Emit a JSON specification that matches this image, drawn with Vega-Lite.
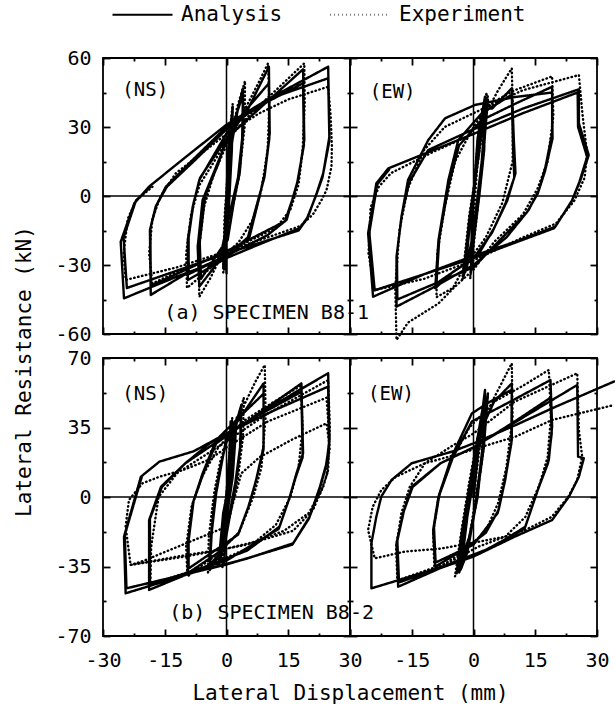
{
"$schema":"https://vega.github.io/schema/vega-lite/v6.json",
"padding":{"left":12,"top":3,"right":0,"bottom":0},
"config":{"font":"DejaVu Sans Mono","view":{"stroke":"black","strokeWidth":1.8},
"axis":{"tickColor":"black","tickWidth":1.8,"tickSize":7,"offset":-7,"labelColor":"black","titleColor":"black","labelFont":"DejaVu Sans Mono","titleFont":"DejaVu Sans Mono","labelFontSize":20,"titleFontSize":21,"titleFontWeight":"normal","domain":false,"grid":false,"labelFlush":false,"labelOverlap":false}},
"datasets":{
"aNS":[
{"s":"A","x":0,"y":0},{"s":"A","x":0.3,"y":15},{"s":"A","x":0.6,"y":26},{"s":"A","x":0.4,"y":5},{"s":"A","x":-0.2,"y":-15},{"s":"A","x":-0.5,"y":-27},{"s":"A","x":-0.1,"y":-5},{"s":"A","x":0.5,"y":20},{"s":"A","x":1.2,"y":34},{"s":"A","x":0.9,"y":10},{"s":"A","x":0.2,"y":-15},{"s":"A","x":-0.8,"y":-31},{"s":"A","x":-0.2,"y":-5},
{"s":"A","x":0,"y":0},{"s":"A","x":0.6,"y":18},{"s":"A","x":1,"y":30},{"s":"A","x":0.8,"y":12},{"s":"A","x":0.2,"y":-10},{"s":"A","x":-0.4,"y":-26},{"s":"A","x":-0.6,"y":-32},{"s":"A","x":-0.3,"y":-12},{"s":"A","x":0.3,"y":12},{"s":"A","x":1,"y":28},{"s":"A","x":1.5,"y":38.8},{"s":"A","x":1.3,"y":20},{"s":"A","x":0.6,"y":-4},{"s":"A","x":0,"y":-20},{"s":"A","x":0,"y":-33.6},{"s":"A","x":-0.2,"y":-16},{"s":"A","x":0.2,"y":8},{"s":"A","x":1.5,"y":25},{"s":"A","x":2.8,"y":38},{"s":"A","x":4,"y":46.8},{"s":"A","x":4.1,"y":28.7},{"s":"A","x":3.2,"y":9.9},{"s":"A","x":2,"y":-0.3},{"s":"A","x":0.3,"y":-19},{"s":"A","x":-3,"y":-31},{"s":"A","x":-6.6,"y":-39.4},{"s":"A","x":-7,"y":-22},{"s":"A","x":-5.8,"y":-1.7},{"s":"A","x":-2.5,"y":12.8},{"s":"A","x":0,"y":24},{"s":"A","x":2.5,"y":36},{"s":"A","x":4,"y":44},{"s":"A","x":3.8,"y":25},{"s":"A","x":2.8,"y":8},{"s":"A","x":1.5,"y":-2},{"s":"A","x":-1,"y":-22},{"s":"A","x":-6.2,"y":-36},{"s":"A","x":-6.5,"y":-20},{"s":"A","x":-5.2,"y":0},{"s":"A","x":-2,"y":14},{"s":"A","x":0,"y":25},{"s":"A","x":5,"y":37},{"s":"A","x":10.3,"y":56.2},{"s":"A","x":10.5,"y":27.2},{"s":"A","x":9.3,"y":9.9},{"s":"A","x":8,"y":-0.3},{"s":"A","x":5.6,"y":-17.7},{"s":"A","x":0,"y":-27},{"s":"A","x":-9.4,"y":-36.5},{"s":"A","x":-9.4,"y":-19.1},{"s":"A","x":-8.2,"y":-4.6},{"s":"A","x":-6.6,"y":7},{"s":"A","x":0,"y":27.2},{"s":"A","x":5,"y":38},{"s":"A","x":10.3,"y":49},{"s":"A","x":10.4,"y":25},{"s":"A","x":9.2,"y":8},{"s":"A","x":7.8,"y":-1},{"s":"A","x":5.2,"y":-18},{"s":"A","x":0,"y":-26},{"s":"A","x":-9.2,"y":-34},{"s":"A","x":-9.2,"y":-18},{"s":"A","x":-8,"y":-3},{"s":"A","x":-6.4,"y":8},{"s":"A","x":0,"y":25},{"s":"A","x":8,"y":38},{"s":"A","x":18.6,"y":55.1},{"s":"A","x":18.9,"y":24.3},{"s":"A","x":17.4,"y":7},{"s":"A","x":16.2,"y":-0.3},{"s":"A","x":14.6,"y":-10.4},{"s":"A","x":10,"y":-17},{"s":"A","x":0,"y":-26},{"s":"A","x":-10,"y":-34},{"s":"A","x":-18.4,"y":-43},{"s":"A","x":-18.6,"y":-14.8},{"s":"A","x":-17.2,"y":-4.6},{"s":"A","x":-14.7,"y":4.1},{"s":"A","x":-8.2,"y":15.7},{"s":"A","x":0,"y":30.1},{"s":"A","x":10,"y":41},{"s":"A","x":18.6,"y":49},{"s":"A","x":18.8,"y":22},{"s":"A","x":17.2,"y":6},{"s":"A","x":16,"y":-1.5},{"s":"A","x":14.2,"y":-11},{"s":"A","x":0,"y":-24},{"s":"A","x":-18.4,"y":-39},{"s":"A","x":-18.5,"y":-14},{"s":"A","x":-17,"y":-4},{"s":"A","x":-14.5,"y":4},{"s":"A","x":-8,"y":15},{"s":"A","x":0,"y":29},{"s":"A","x":10,"y":42},{"s":"A","x":24.7,"y":56.2},{"s":"A","x":25,"y":25.8},{"s":"A","x":23.5,"y":9.9},{"s":"A","x":21.9,"y":1.2},{"s":"A","x":19.8,"y":-9},{"s":"A","x":17.8,"y":-14},{"s":"A","x":8,"y":-21},{"s":"A","x":0,"y":-27},{"s":"A","x":-12,"y":-35},{"s":"A","x":-24.9,"y":-44.5},{"s":"A","x":-25.7,"y":-19.9},{"s":"A","x":-22.4,"y":-3.2},{"s":"A","x":-18.8,"y":4.1},{"s":"A","x":-9.8,"y":17.1},{"s":"A","x":0,"y":31},{"s":"A","x":10,"y":42},{"s":"A","x":24.7,"y":51.2},{"s":"A","x":25,"y":24},{"s":"A","x":23.3,"y":8},{"s":"A","x":21.7,"y":0},{"s":"A","x":19.5,"y":-10},{"s":"A","x":17.5,"y":-15},{"s":"A","x":0,"y":-25},{"s":"A","x":-24.2,"y":-40},{"s":"A","x":-25,"y":-18},{"s":"A","x":-22,"y":-2},{"s":"A","x":-18.5,"y":4},
{"s":"E","x":0,"y":0},{"s":"E","x":0.4,"y":18},{"s":"E","x":0.8,"y":30},{"s":"E","x":0.3,"y":5},{"s":"E","x":-0.4,"y":-20},{"s":"E","x":-0.6,"y":-29},{"s":"E","x":0,"y":-5},
{"s":"E","x":0,"y":0},{"s":"E","x":0.8,"y":28},{"s":"E","x":1.5,"y":40},{"s":"E","x":0.8,"y":10},{"s":"E","x":0,"y":-15},{"s":"E","x":-0.8,"y":-34},{"s":"E","x":-0.5,"y":-10},{"s":"E","x":0.5,"y":15},{"s":"E","x":2.5,"y":38},{"s":"E","x":4.5,"y":50},{"s":"E","x":4.4,"y":30},{"s":"E","x":3,"y":8},{"s":"E","x":1.5,"y":-5},{"s":"E","x":-1,"y":-25},{"s":"E","x":-4,"y":-36},{"s":"E","x":-6.6,"y":-43.8},{"s":"E","x":-6.8,"y":-25},{"s":"E","x":-5.5,"y":-5},{"s":"E","x":-3,"y":10},{"s":"E","x":0,"y":22},{"s":"E","x":4,"y":36},{"s":"E","x":8,"y":50},{"s":"E","x":10.1,"y":57.7},{"s":"E","x":10.4,"y":40},{"s":"E","x":10,"y":20},{"s":"E","x":8.5,"y":3},{"s":"E","x":6.5,"y":-10},{"s":"E","x":3,"y":-20},{"s":"E","x":-3,"y":-30},{"s":"E","x":-9.6,"y":-40},{"s":"E","x":-9.8,"y":-25},{"s":"E","x":-8.6,"y":-8},{"s":"E","x":-6.5,"y":5},{"s":"E","x":-3,"y":15},{"s":"E","x":0,"y":24},{"s":"E","x":6,"y":36},{"s":"E","x":12,"y":46},{"s":"E","x":18.9,"y":57.7},{"s":"E","x":19,"y":40},{"s":"E","x":18.5,"y":20},{"s":"E","x":17.5,"y":5},{"s":"E","x":15.5,"y":-6},{"s":"E","x":12,"y":-14},{"s":"E","x":5,"y":-20},{"s":"E","x":-5,"y":-28},{"s":"E","x":-12,"y":-33},{"s":"E","x":-18,"y":-38},{"s":"E","x":-18.8,"y":-25},{"s":"E","x":-18,"y":-10},{"s":"E","x":-16,"y":0},{"s":"E","x":-12.3,"y":9.9},{"s":"E","x":-5,"y":20},{"s":"E","x":0,"y":27},{"s":"E","x":8,"y":36},{"s":"E","x":15,"y":42},{"s":"E","x":24.7,"y":47.5},{"s":"E","x":25.3,"y":35},{"s":"E","x":25.6,"y":22},{"s":"E","x":25.5,"y":12.8},{"s":"E","x":24.3,"y":2.6},{"s":"E","x":23.1,"y":-1.7},{"s":"E","x":21,"y":-8},{"s":"E","x":18,"y":-13},{"s":"E","x":10,"y":-18},{"s":"E","x":0,"y":-24},{"s":"E","x":-12,"y":-31},{"s":"E","x":-24.5,"y":-36.5},{"s":"E","x":-25,"y":-25},{"s":"E","x":-24,"y":-10},{"s":"E","x":-22,"y":-2},{"s":"E","x":-18,"y":4}
],
"aEW":[
{"s":"A","x":0,"y":0},{"s":"A","x":1.5,"y":25},{"s":"A","x":3,"y":40},{"s":"A","x":2,"y":15},{"s":"A","x":0,"y":-15},{"s":"A","x":-1.5,"y":-30},{"s":"A","x":-2.5,"y":-35},{"s":"A","x":-1,"y":-10},{"s":"A","x":1,"y":15},{"s":"A","x":2.5,"y":35},{"s":"A","x":3.5,"y":42},{"s":"A","x":2,"y":10},{"s":"A","x":-0.5,"y":-20},{"s":"A","x":-2,"y":-33},{"s":"A","x":-0.5,"y":-5},
{"s":"A","x":0,"y":0},{"s":"A","x":1,"y":25},{"s":"A","x":2.8,"y":43.2},{"s":"A","x":2.6,"y":20},{"s":"A","x":1.4,"y":0},{"s":"A","x":0,"y":-20},{"s":"A","x":-0.6,"y":-33},{"s":"A","x":-0.4,"y":-12},{"s":"A","x":0.6,"y":15},{"s":"A","x":2.2,"y":38},{"s":"A","x":4.5,"y":38},{"s":"A","x":9.3,"y":46.8},{"s":"A","x":9.8,"y":24.3},{"s":"A","x":10.2,"y":9.9},{"s":"A","x":8.2,"y":-2},{"s":"A","x":5,"y":-14},{"s":"A","x":1,"y":-26},{"s":"A","x":-5,"y":-33},{"s":"A","x":-9.3,"y":-40.1},{"s":"A","x":-8.5,"y":-19.1},{"s":"A","x":-6.1,"y":7},{"s":"A","x":-3.7,"y":24.3},{"s":"A","x":2,"y":36},{"s":"A","x":9.3,"y":44},{"s":"A","x":9.6,"y":22},{"s":"A","x":9.9,"y":8},{"s":"A","x":7.8,"y":-3},{"s":"A","x":4.5,"y":-16},{"s":"A","x":0,"y":-27},{"s":"A","x":-9,"y":-38},{"s":"A","x":-8.3,"y":-18},{"s":"A","x":-6,"y":5},{"s":"A","x":-3.5,"y":22},{"s":"A","x":2,"y":33},{"s":"A","x":10,"y":40},{"s":"A","x":19.1,"y":47.5},{"s":"A","x":19.1,"y":27.2},{"s":"A","x":17.5,"y":12.8},{"s":"A","x":15.9,"y":2.6},{"s":"A","x":13.4,"y":-6.1},{"s":"A","x":8,"y":-18},{"s":"A","x":0,"y":-30},{"s":"A","x":-10,"y":-40},{"s":"A","x":-18.7,"y":-48.1},{"s":"A","x":-18.7,"y":-26.4},{"s":"A","x":-17.5,"y":-9},{"s":"A","x":-15.9,"y":7},{"s":"A","x":-11,"y":24.3},{"s":"A","x":-6.9,"y":33.8},{"s":"A","x":0.4,"y":39.6},{"s":"A","x":10,"y":43},{"s":"A","x":19.1,"y":45},{"s":"A","x":19.2,"y":25},{"s":"A","x":17.4,"y":11},{"s":"A","x":15.6,"y":1},{"s":"A","x":13,"y":-7},{"s":"A","x":0,"y":-31},{"s":"A","x":-18.5,"y":-45},{"s":"A","x":-18.6,"y":-25},{"s":"A","x":-17.4,"y":-8},{"s":"A","x":-15.6,"y":6},{"s":"A","x":-11,"y":20},{"s":"A","x":0,"y":29},{"s":"A","x":12,"y":38},{"s":"A","x":25.6,"y":46.4},{"s":"A","x":25.6,"y":31.6},{"s":"A","x":28,"y":17.8},{"s":"A","x":26,"y":7},{"s":"A","x":24,"y":-1.7},{"s":"A","x":19.9,"y":-13.3},{"s":"A","x":10,"y":-20},{"s":"A","x":0,"y":-26},{"s":"A","x":-12,"y":-34},{"s":"A","x":-24.4,"y":-43.8},{"s":"A","x":-25.6,"y":-16.2},{"s":"A","x":-23.6,"y":5.5},{"s":"A","x":-20.7,"y":12},{"s":"A","x":-11,"y":19},{"s":"A","x":0,"y":27},{"s":"A","x":12,"y":36},{"s":"A","x":25.3,"y":45},{"s":"A","x":25.4,"y":30},{"s":"A","x":27.6,"y":17},{"s":"A","x":25.7,"y":6},{"s":"A","x":23.8,"y":-2.5},{"s":"A","x":19.6,"y":-14},{"s":"A","x":0,"y":-27},{"s":"A","x":-24,"y":-41},{"s":"A","x":-25.3,"y":-16},{"s":"A","x":-23.4,"y":5},{"s":"A","x":-20.5,"y":11.5},
{"s":"E","x":0,"y":0},{"s":"E","x":1.8,"y":28},{"s":"E","x":3.5,"y":44},{"s":"E","x":2,"y":12},{"s":"E","x":-0.5,"y":-22},{"s":"E","x":-2.8,"y":-37},{"s":"E","x":-1,"y":-8},{"s":"E","x":1.5,"y":20},
{"s":"E","x":0,"y":0},{"s":"E","x":1.2,"y":28},{"s":"E","x":3.2,"y":45},{"s":"E","x":2.5,"y":20},{"s":"E","x":1,"y":-5},{"s":"E","x":-0.8,"y":-36},{"s":"E","x":0,"y":-10},{"s":"E","x":1,"y":15},{"s":"E","x":3,"y":36},{"s":"E","x":6,"y":46},{"s":"E","x":9.3,"y":55.5},{"s":"E","x":9.6,"y":35},{"s":"E","x":9.5,"y":15},{"s":"E","x":7,"y":-3},{"s":"E","x":3,"y":-18},{"s":"E","x":-2,"y":-30},{"s":"E","x":-5,"y":-40},{"s":"E","x":-9,"y":-44},{"s":"E","x":-8.8,"y":-25},{"s":"E","x":-7,"y":-5},{"s":"E","x":-4.5,"y":15},{"s":"E","x":0,"y":30},{"s":"E","x":4,"y":40},{"s":"E","x":10,"y":46},{"s":"E","x":19.1,"y":52},{"s":"E","x":19.4,"y":35},{"s":"E","x":18,"y":15},{"s":"E","x":15.5,"y":3},{"s":"E","x":12,"y":-8},{"s":"E","x":5,"y":-20},{"s":"E","x":0,"y":-32},{"s":"E","x":-4.5,"y":-39.4},{"s":"E","x":-8.5,"y":-46.7},{"s":"E","x":-15.9,"y":-55},{"s":"E","x":-18.7,"y":-62.6},{"s":"E","x":-19,"y":-40},{"s":"E","x":-18,"y":-15},{"s":"E","x":-16,"y":3},{"s":"E","x":-12,"y":20},{"s":"E","x":-7,"y":30},{"s":"E","x":0,"y":36},{"s":"E","x":12,"y":46},{"s":"E","x":25.6,"y":52.6},{"s":"E","x":26.5,"y":35},{"s":"E","x":27.6,"y":18.6},{"s":"E","x":27,"y":8},{"s":"E","x":24.5,"y":-2},{"s":"E","x":20,"y":-12},{"s":"E","x":12,"y":-18},{"s":"E","x":0,"y":-28},{"s":"E","x":-12,"y":-36},{"s":"E","x":-24,"y":-40.9},{"s":"E","x":-25.5,"y":-25},{"s":"E","x":-25,"y":-5},{"s":"E","x":-23,"y":4},{"s":"E","x":-20,"y":10},{"s":"E","x":-10,"y":19},{"s":"E","x":0,"y":27}
],
"bNS":[
{"s":"A","x":0,"y":0},{"s":"A","x":0.8,"y":20},{"s":"A","x":1.8,"y":36},{"s":"A","x":1.2,"y":12},{"s":"A","x":-0.3,"y":-18},{"s":"A","x":-1.5,"y":-32},{"s":"A","x":-0.5,"y":-8},{"s":"A","x":1,"y":18},{"s":"A","x":2.5,"y":40},{"s":"A","x":1.5,"y":10},{"s":"A","x":-1,"y":-25},{"s":"A","x":-2,"y":-35},{"s":"A","x":-0.8,"y":-8},
{"s":"A","x":0,"y":0},{"s":"A","x":0.8,"y":25},{"s":"A","x":1,"y":38},{"s":"A","x":0.5,"y":10},{"s":"A","x":-0.3,"y":-15},{"s":"A","x":-0.5,"y":-33.4},{"s":"A","x":-0.2,"y":-10},{"s":"A","x":0.5,"y":15},{"s":"A","x":2,"y":35},{"s":"A","x":3.6,"y":46.3},{"s":"A","x":3.5,"y":28},{"s":"A","x":2.5,"y":10},{"s":"A","x":1.2,"y":-5},{"s":"A","x":-0.5,"y":-25},{"s":"A","x":-4.1,"y":-36.8},{"s":"A","x":-3.8,"y":-20},{"s":"A","x":-2.8,"y":0},{"s":"A","x":-1.5,"y":15},{"s":"A","x":0,"y":28},{"s":"A","x":3.5,"y":42},{"s":"A","x":3.3,"y":25},{"s":"A","x":2.2,"y":8},{"s":"A","x":0.8,"y":-8},{"s":"A","x":-1,"y":-27},{"s":"A","x":-4,"y":-34},{"s":"A","x":-3.6,"y":-18},{"s":"A","x":-2.5,"y":2},{"s":"A","x":0,"y":30},{"s":"A","x":4,"y":42},{"s":"A","x":9,"y":57.2},{"s":"A","x":9,"y":25.3},{"s":"A","x":7.2,"y":8.6},{"s":"A","x":5.5,"y":-4},{"s":"A","x":3,"y":-18},{"s":"A","x":-2,"y":-28},{"s":"A","x":-9.4,"y":-38.4},{"s":"A","x":-9.4,"y":-23.3},{"s":"A","x":-8.2,"y":-3.2},{"s":"A","x":-5.8,"y":11.9},{"s":"A","x":-2.5,"y":28.7},{"s":"A","x":3,"y":40},{"s":"A","x":9,"y":52},{"s":"A","x":9,"y":24},{"s":"A","x":7,"y":7},{"s":"A","x":5.3,"y":-5},{"s":"A","x":2.8,"y":-19},{"s":"A","x":-9.2,"y":-36},{"s":"A","x":-9.2,"y":-22},{"s":"A","x":-8,"y":-2},{"s":"A","x":-5.6,"y":12},{"s":"A","x":-2.5,"y":27},{"s":"A","x":5,"y":38},{"s":"A","x":18.2,"y":57.2},{"s":"A","x":18.6,"y":22},{"s":"A","x":17,"y":11.9},{"s":"A","x":15.4,"y":0.2},{"s":"A","x":12.9,"y":-14.9},{"s":"A","x":5,"y":-27},{"s":"A","x":-5,"y":-35},{"s":"A","x":-18.8,"y":-46.8},{"s":"A","x":-18.8,"y":-11.6},{"s":"A","x":-15.9,"y":5.2},{"s":"A","x":-10,"y":17},{"s":"A","x":-4.1,"y":27},{"s":"A","x":5,"y":38},{"s":"A","x":18.2,"y":53},{"s":"A","x":18.5,"y":20},{"s":"A","x":16.8,"y":10},{"s":"A","x":15.2,"y":-1},{"s":"A","x":12.7,"y":-16},{"s":"A","x":0,"y":-32},{"s":"A","x":-18.6,"y":-44},{"s":"A","x":-18.6,"y":-11},{"s":"A","x":-15.7,"y":5},{"s":"A","x":-10,"y":17},{"s":"A","x":0,"y":31},{"s":"A","x":12,"y":47},{"s":"A","x":24.7,"y":62.3},{"s":"A","x":25,"y":28.7},{"s":"A","x":24.3,"y":17},{"s":"A","x":22.7,"y":5.2},{"s":"A","x":20.2,"y":-9.9},{"s":"A","x":16.2,"y":-23.3},{"s":"A","x":5,"y":-31},{"s":"A","x":-8,"y":-38},{"s":"A","x":-24.5,"y":-48.5},{"s":"A","x":-24.9,"y":-20},{"s":"A","x":-20.8,"y":10.2},{"s":"A","x":-16.3,"y":17.8},{"s":"A","x":-8,"y":23},{"s":"A","x":0,"y":32},{"s":"A","x":12,"y":44},{"s":"A","x":24.7,"y":55.6},{"s":"A","x":24.9,"y":26},{"s":"A","x":24.1,"y":15},{"s":"A","x":22.5,"y":3},{"s":"A","x":20,"y":-11},{"s":"A","x":16,"y":-24},{"s":"A","x":0,"y":-34},{"s":"A","x":-24.3,"y":-46},{"s":"A","x":-24.7,"y":-19},{"s":"A","x":-20.6,"y":10},
{"s":"E","x":0,"y":0},{"s":"E","x":1,"y":22},{"s":"E","x":2,"y":37},{"s":"E","x":1,"y":8},{"s":"E","x":-0.8,"y":-24},{"s":"E","x":-1.8,"y":-34},{"s":"E","x":-0.5,"y":-6},{"s":"E","x":1.2,"y":22},
{"s":"E","x":0,"y":0},{"s":"E","x":0.8,"y":25},{"s":"E","x":1.4,"y":40},{"s":"E","x":0.6,"y":10},{"s":"E","x":-0.5,"y":-20},{"s":"E","x":-1,"y":-36},{"s":"E","x":-0.5,"y":-10},{"s":"E","x":0.6,"y":18},{"s":"E","x":2.5,"y":38},{"s":"E","x":4.2,"y":50},{"s":"E","x":4,"y":30},{"s":"E","x":2.8,"y":10},{"s":"E","x":1,"y":-8},{"s":"E","x":-1.5,"y":-28},{"s":"E","x":-4.5,"y":-38},{"s":"E","x":-4.3,"y":-20},{"s":"E","x":-3,"y":2},{"s":"E","x":-1.5,"y":18},{"s":"E","x":0,"y":28},{"s":"E","x":4,"y":45},{"s":"E","x":7,"y":58},{"s":"E","x":9.3,"y":66.5},{"s":"E","x":9.5,"y":40},{"s":"E","x":8.5,"y":15},{"s":"E","x":6.5,"y":0},{"s":"E","x":3,"y":-18},{"s":"E","x":-3,"y":-30},{"s":"E","x":-9.5,"y":-40},{"s":"E","x":-9.8,"y":-25},{"s":"E","x":-8.5,"y":-5},{"s":"E","x":-6,"y":10},{"s":"E","x":-2,"y":25},{"s":"E","x":4,"y":38},{"s":"E","x":10,"y":46},{"s":"E","x":18,"y":56},{"s":"E","x":18.5,"y":35},{"s":"E","x":17.5,"y":15},{"s":"E","x":15.5,"y":0},{"s":"E","x":12,"y":-14},{"s":"E","x":5,"y":-26},{"s":"E","x":-5,"y":-35},{"s":"E","x":-18.5,"y":-44},{"s":"E","x":-18.3,"y":-25},{"s":"E","x":-16.5,"y":0},{"s":"E","x":-12,"y":12},{"s":"E","x":-6,"y":20},{"s":"E","x":0,"y":28},{"s":"E","x":10,"y":42},{"s":"E","x":24.7,"y":58.9},{"s":"E","x":25.1,"y":35},{"s":"E","x":24.7,"y":13.6},{"s":"E","x":23.5,"y":5.2},{"s":"E","x":21,"y":-6.5},{"s":"E","x":16.2,"y":-17},{"s":"E","x":8,"y":-22},{"s":"E","x":0,"y":-26},{"s":"E","x":-12,"y":-30},{"s":"E","x":-23.3,"y":-34.2},{"s":"E","x":-24.5,"y":-14.9},{"s":"E","x":-23.7,"y":-1.5},{"s":"E","x":-20.4,"y":6.9},{"s":"E","x":-16.3,"y":10.2},{"s":"E","x":-10,"y":14},{"s":"E","x":-4,"y":19},{"s":"E","x":0,"y":25},{"s":"E","x":10,"y":38},{"s":"E","x":24.3,"y":50},{"s":"E","x":25,"y":30},{"s":"E","x":24.5,"y":12},{"s":"E","x":23,"y":3},{"s":"E","x":20,"y":-8},{"s":"E","x":14,"y":-17},{"s":"E","x":5,"y":-24},{"s":"E","x":-10,"y":-30},{"s":"E","x":-23.3,"y":-34.2},{"s":"E","x":-20,"y":-32},{"s":"E","x":-9.8,"y":-23.3},{"s":"E","x":0,"y":-15},{"s":"E","x":2,"y":0},{"s":"E","x":3.6,"y":11.9},{"s":"E","x":8,"y":20},{"s":"E","x":16,"y":29},{"s":"E","x":24.3,"y":37.1},{"s":"E","x":25.1,"y":25},{"s":"E","x":24.2,"y":10}
],
"bEW":[
{"s":"A","x":0,"y":0},{"s":"A","x":1.5,"y":30},{"s":"A","x":3,"y":50},{"s":"A","x":2,"y":20},{"s":"A","x":0,"y":-10},{"s":"A","x":-2,"y":-30},{"s":"A","x":-3.5,"y":-38},{"s":"A","x":-2,"y":-15},{"s":"A","x":0,"y":10},{"s":"A","x":2,"y":35},{"s":"A","x":3.5,"y":52},{"s":"A","x":2.5,"y":25},{"s":"A","x":0.5,"y":-5},{"s":"A","x":-1.5,"y":-28},{"s":"A","x":-3,"y":-36},{"s":"A","x":-1.5,"y":-10},{"s":"A","x":0.5,"y":15},
{"s":"A","x":0,"y":0},{"s":"A","x":1,"y":25},{"s":"A","x":2.8,"y":53.9},{"s":"A","x":2.5,"y":30},{"s":"A","x":1,"y":0},{"s":"A","x":-1,"y":-20},{"s":"A","x":-4.1,"y":-38.4},{"s":"A","x":-3,"y":-20},{"s":"A","x":-1,"y":5},{"s":"A","x":1,"y":30},{"s":"A","x":2.5,"y":48},{"s":"A","x":2.2,"y":25},{"s":"A","x":0.5,"y":-5},{"s":"A","x":-1.5,"y":-25},{"s":"A","x":-3.5,"y":-35},{"s":"A","x":-2.5,"y":-15},{"s":"A","x":-0.5,"y":10},{"s":"A","x":1,"y":30},{"s":"A","x":5,"y":48},{"s":"A","x":9.3,"y":57.2},{"s":"A","x":9.3,"y":28.7},{"s":"A","x":7.7,"y":8.6},{"s":"A","x":6.1,"y":-6.5},{"s":"A","x":3,"y":-18},{"s":"A","x":-2,"y":-26},{"s":"A","x":-9.3,"y":-35.1},{"s":"A","x":-9.8,"y":-16.6},{"s":"A","x":-8.5,"y":0.2},{"s":"A","x":-5.3,"y":20.3},{"s":"A","x":-0.4,"y":42.1},{"s":"A","x":4,"y":48},{"s":"A","x":9.3,"y":54},{"s":"A","x":9.2,"y":27},{"s":"A","x":7.5,"y":7},{"s":"A","x":5.9,"y":-8},{"s":"A","x":0,"y":-24},{"s":"A","x":-9.2,"y":-33},{"s":"A","x":-9.6,"y":-15},{"s":"A","x":-8.3,"y":1},{"s":"A","x":-5,"y":20},{"s":"A","x":-0.4,"y":38},{"s":"A","x":8,"y":47},{"s":"A","x":18.7,"y":58.9},{"s":"A","x":19.1,"y":35.4},{"s":"A","x":18.3,"y":18.6},{"s":"A","x":15.9,"y":5.2},{"s":"A","x":12.6,"y":-14.9},{"s":"A","x":5,"y":-25},{"s":"A","x":-5,"y":-33},{"s":"A","x":-18.3,"y":-45.2},{"s":"A","x":-18.7,"y":-23.3},{"s":"A","x":-17.1,"y":-8.2},{"s":"A","x":-15,"y":5.2},{"s":"A","x":-8,"y":17},{"s":"A","x":0,"y":25},{"s":"A","x":10,"y":38},{"s":"A","x":18.7,"y":50},{"s":"A","x":19,"y":32},{"s":"A","x":18.1,"y":17},{"s":"A","x":15.7,"y":4},{"s":"A","x":12.4,"y":-16},{"s":"A","x":0,"y":-30},{"s":"A","x":-18.1,"y":-43},{"s":"A","x":-18.5,"y":-22},{"s":"A","x":-16.9,"y":-7},{"s":"A","x":-14.8,"y":5},{"s":"A","x":-8,"y":17},{"s":"A","x":0,"y":25},{"s":"A","x":12,"y":40},{"s":"A","x":25.2,"y":56.4},{"s":"A","x":25.4,"y":20.3},{"s":"A","x":26.8,"y":19.5},{"s":"A","x":25.6,"y":10.2},{"s":"A","x":23.2,"y":0.2},{"s":"A","x":19.1,"y":-11.6},{"s":"A","x":10,"y":-20},{"s":"A","x":0,"y":-30},{"s":"A","x":-12,"y":-38},{"s":"A","x":-24.8,"y":-46},{"s":"A","x":-24.8,"y":-23.3},{"s":"A","x":-23.6,"y":-9.9},{"s":"A","x":-22.4,"y":0.2},{"s":"A","x":-19.9,"y":8.6},{"s":"A","x":-15,"y":17},{"s":"A","x":-5,"y":23},{"s":"A","x":0,"y":27},{"s":"A","x":10,"y":36},{"s":"A","x":20,"y":45.5},{"s":"A","x":34.2,"y":58.2},
{"s":"E","x":0,"y":0},{"s":"E","x":1.8,"y":30},{"s":"E","x":3.5,"y":52},{"s":"E","x":2,"y":18},{"s":"E","x":-1,"y":-20},{"s":"E","x":-3.2,"y":-37},{"s":"E","x":-1.5,"y":-8},{"s":"E","x":1,"y":22},
{"s":"E","x":0,"y":0},{"s":"E","x":1,"y":25},{"s":"E","x":3,"y":50},{"s":"E","x":2.5,"y":25},{"s":"E","x":0.5,"y":-5},{"s":"E","x":-1.5,"y":-25},{"s":"E","x":-4.5,"y":-40},{"s":"E","x":-3,"y":-18},{"s":"E","x":-1,"y":8},{"s":"E","x":1,"y":30},{"s":"E","x":5,"y":50},{"s":"E","x":9.3,"y":67.3},{"s":"E","x":9.5,"y":40},{"s":"E","x":8,"y":15},{"s":"E","x":6,"y":-3},{"s":"E","x":3,"y":-17},{"s":"E","x":-2,"y":-27},{"s":"E","x":-9.5,"y":-37},{"s":"E","x":-9.8,"y":-18},{"s":"E","x":-8.5,"y":0},{"s":"E","x":-5.5,"y":18},{"s":"E","x":-1,"y":35},{"s":"E","x":5,"y":48},{"s":"E","x":12,"y":56},{"s":"E","x":18.3,"y":64},{"s":"E","x":18.8,"y":40},{"s":"E","x":18,"y":20},{"s":"E","x":16,"y":6},{"s":"E","x":12.6,"y":-10},{"s":"E","x":7.7,"y":-20},{"s":"E","x":1.2,"y":-25},{"s":"E","x":-6,"y":-33},{"s":"E","x":-18.5,"y":-42},{"s":"E","x":-18.8,"y":-25},{"s":"E","x":-17.5,"y":-8},{"s":"E","x":-15.5,"y":5},{"s":"E","x":-11.8,"y":17},{"s":"E","x":-5,"y":26},{"s":"E","x":0,"y":32},{"s":"E","x":10,"y":48},{"s":"E","x":25.2,"y":62.3},{"s":"E","x":25.6,"y":33.7},{"s":"E","x":26.4,"y":20.3},{"s":"E","x":25.2,"y":8.6},{"s":"E","x":23,"y":0},{"s":"E","x":19,"y":-10},{"s":"E","x":12.6,"y":-16.6},{"s":"E","x":7.7,"y":-20},{"s":"E","x":0,"y":-23},{"s":"E","x":-8,"y":-26},{"s":"E","x":-16.7,"y":-27.5},{"s":"E","x":-24,"y":-30.9},{"s":"E","x":-25.6,"y":-16.6},{"s":"E","x":-24.5,"y":-5},{"s":"E","x":-22.4,"y":3.5},{"s":"E","x":-19,"y":10},{"s":"E","x":-11.8,"y":17},{"s":"E","x":-3,"y":22},{"s":"E","x":0,"y":24},{"s":"E","x":10.2,"y":30.4},{"s":"E","x":19.1,"y":38.8},{"s":"E","x":34.1,"y":46.3}
]},
"bounds":"flush",
"columns":2,
"spacing":{"row":24,"column":0},
"concat":[
{"width":247,"height":276,"data":{"name":"aNS"},"resolve":{"axis":{"x":"independent","y":"independent"}},
"layer":[
{"mark":{"type":"line","strokeWidth":2.4,"strokeCap":"round","strokeJoin":"round","color":"black"},
"encoding":{
"x":{"field":"x","type":"quantitative","scale":{"domain":[-30,30],"nice":false,"zero":false},"axis":{"orient":"bottom","values":[-30,-15,0,15,30],"labels":false,"title":null}},
"y":{"field":"y","type":"quantitative","scale":{"domain":[-60,60],"nice":false,"zero":false},"axis":{"orient":"left","values":[-60,-30,0,30,60],"labelExpr":"'' + datum.value","labelPadding":12,"title":"Lateral Resistance (kN)","titleX":-86,"titleY":313,"titleAngle":-90,"titleAlign":"center","titleBaseline":"middle"}},
"strokeDash":{"field":"s","type":"nominal","scale":{"domain":["A","E"],"range":[[1,0],[0.5,3.5]]},"legend":{"title":null,"orient":"none","legendX":28,"legendY":-55,"direction":"horizontal","symbolType":"M-3,0H3","symbolSize":400,"symbolStrokeWidth":2.2,"symbolStrokeColor":"black","labelFont":"DejaVu Sans Mono","labelFontSize":21,"labelColor":"black","labelOffset":27,"columnPadding":43,"labelExpr":"datum.label == 'A' ? 'Analysis' : 'Experiment'"}},
"order":{"value":null}}},
{"data":{"values":[{}]},"mark":{"type":"rule","color":"black","strokeWidth":1.5},"encoding":{"y":{"datum":0,"type":"quantitative","axis":{"orient":"right","values":[-60,-30,0,30,60],"labels":false,"title":null}}}},
{"data":{"values":[{}]},"mark":{"type":"rule","color":"black","strokeWidth":1.5},"encoding":{"x":{"datum":0,"type":"quantitative","axis":{"orient":"top","values":[-30,-15,0,15,30],"labels":false,"title":null}}}},
{"data":{"values":[{}]},"mark":{"type":"point","opacity":0},"encoding":{"x":{"datum":0,"type":"quantitative","axis":{"orient":"bottom","values":[-22.5,-7.5,7.5,22.5],"labels":false,"tickSize":3,"offset":-3,"title":null}},"y":{"datum":0,"type":"quantitative","axis":{"orient":"left","values":[-45,-15,15,45],"labels":false,"tickSize":3,"offset":-3,"title":null}}}},
{"data":{"values":[{}]},"mark":{"type":"point","opacity":0},"encoding":{"x":{"datum":0,"type":"quantitative","axis":{"orient":"top","values":[-22.5,-7.5,7.5,22.5],"labels":false,"tickSize":3,"offset":-3,"title":null}},"y":{"datum":0,"type":"quantitative","axis":{"orient":"right","values":[-45,-15,15,45],"labels":false,"tickSize":3,"offset":-3,"title":null}}}},
{"data":{"values":[{}]},"mark":{"type":"text","align":"left","baseline":"middle","font":"DejaVu Sans Mono","fontSize":19,"color":"black"},"encoding":{"x":{"datum":-25.3,"type":"quantitative","axis":null},"y":{"datum":46,"type":"quantitative","axis":null},"text":{"value":"(NS)"}}},
{"data":{"values":[{}]},"mark":{"type":"text","align":"left","baseline":"middle","font":"DejaVu Sans Mono","fontSize":20,"color":"black"},"encoding":{"x":{"datum":-15.1,"type":"quantitative","axis":null},"y":{"datum":-51,"type":"quantitative","axis":null},"text":{"value":"(a)  SPECIMEN B8-1"}}}
]},
{"width":247,"height":276,"data":{"name":"aEW"},"resolve":{"axis":{"x":"independent","y":"independent"}},
"layer":[
{"mark":{"type":"line","strokeWidth":2.4,"strokeCap":"round","strokeJoin":"round","color":"black"},
"encoding":{
"x":{"field":"x","type":"quantitative","scale":{"domain":[-30,30],"nice":false,"zero":false},"axis":{"orient":"bottom","values":[-30,-15,0,15,30],"labels":false,"title":null}},
"y":{"field":"y","type":"quantitative","scale":{"domain":[-60,60],"nice":false,"zero":false},"axis":{"orient":"left","values":[-60,-30,0,30,60],"labels":false,"title":null}},
"strokeDash":{"field":"s","type":"nominal","scale":{"domain":["A","E"],"range":[[1,0],[0.5,3.5]]},"legend":{"title":null,"orient":"none","legendX":28,"legendY":-55,"direction":"horizontal","symbolType":"M-3,0H3","symbolSize":400,"symbolStrokeWidth":2.2,"symbolStrokeColor":"black","labelFont":"DejaVu Sans Mono","labelFontSize":21,"labelColor":"black","labelOffset":27,"columnPadding":43,"labelExpr":"datum.label == 'A' ? 'Analysis' : 'Experiment'"}},
"order":{"value":null}}},
{"data":{"values":[{}]},"mark":{"type":"rule","color":"black","strokeWidth":1.5},"encoding":{"y":{"datum":0,"type":"quantitative","axis":{"orient":"right","values":[-60,-30,0,30,60],"labels":false,"title":null}}}},
{"data":{"values":[{}]},"mark":{"type":"rule","color":"black","strokeWidth":1.5},"encoding":{"x":{"datum":0,"type":"quantitative","axis":{"orient":"top","values":[-30,-15,0,15,30],"labels":false,"title":null}}}},
{"data":{"values":[{}]},"mark":{"type":"point","opacity":0},"encoding":{"x":{"datum":0,"type":"quantitative","axis":{"orient":"bottom","values":[-22.5,-7.5,7.5,22.5],"labels":false,"tickSize":3,"offset":-3,"title":null}},"y":{"datum":0,"type":"quantitative","axis":{"orient":"left","values":[-45,-15,15,45],"labels":false,"tickSize":3,"offset":-3,"title":null}}}},
{"data":{"values":[{}]},"mark":{"type":"point","opacity":0},"encoding":{"x":{"datum":0,"type":"quantitative","axis":{"orient":"top","values":[-22.5,-7.5,7.5,22.5],"labels":false,"tickSize":3,"offset":-3,"title":null}},"y":{"datum":0,"type":"quantitative","axis":{"orient":"right","values":[-45,-15,15,45],"labels":false,"tickSize":3,"offset":-3,"title":null}}}},
{"data":{"values":[{}]},"mark":{"type":"text","align":"left","baseline":"middle","font":"DejaVu Sans Mono","fontSize":19,"color":"black"},"encoding":{"x":{"datum":-25.2,"type":"quantitative","axis":null},"y":{"datum":45.4,"type":"quantitative","axis":null},"text":{"value":"(EW)"}}}
]},
{"width":247,"height":278,"data":{"name":"bNS"},"resolve":{"axis":{"x":"independent","y":"independent"}},
"layer":[
{"mark":{"type":"line","strokeWidth":2.4,"strokeCap":"round","strokeJoin":"round","color":"black"},
"encoding":{
"x":{"field":"x","type":"quantitative","scale":{"domain":[-30,30],"nice":false,"zero":false},"axis":{"orient":"bottom","values":[-30,-15,0,15,30],"labelExpr":"'' + datum.value","labelPadding":14,"title":"Lateral Displacement (mm)","titleX":247,"titleY":64,"titleAlign":"center","titleBaseline":"middle"}},
"y":{"field":"y","type":"quantitative","scale":{"domain":[-70,70],"nice":false,"zero":false},"axis":{"orient":"left","values":[-70,-35,0,35,70],"labelExpr":"'' + datum.value","labelPadding":12,"title":null}},
"strokeDash":{"field":"s","type":"nominal","scale":{"domain":["A","E"],"range":[[1,0],[0.5,3.5]]},"legend":{"title":null,"orient":"none","legendX":28,"legendY":-55,"direction":"horizontal","symbolType":"M-3,0H3","symbolSize":400,"symbolStrokeWidth":2.2,"symbolStrokeColor":"black","labelFont":"DejaVu Sans Mono","labelFontSize":21,"labelColor":"black","labelOffset":27,"columnPadding":43,"labelExpr":"datum.label == 'A' ? 'Analysis' : 'Experiment'"}},
"order":{"value":null}}},
{"data":{"values":[{}]},"mark":{"type":"rule","color":"black","strokeWidth":1.5},"encoding":{"y":{"datum":0,"type":"quantitative","axis":{"orient":"right","values":[-70,-35,0,35,70],"labels":false,"title":null}}}},
{"data":{"values":[{}]},"mark":{"type":"rule","color":"black","strokeWidth":1.5},"encoding":{"x":{"datum":0,"type":"quantitative","axis":{"orient":"top","values":[-30,-15,0,15,30],"labels":false,"title":null}}}},
{"data":{"values":[{}]},"mark":{"type":"point","opacity":0},"encoding":{"x":{"datum":0,"type":"quantitative","axis":{"orient":"bottom","values":[-22.5,-7.5,7.5,22.5],"labels":false,"tickSize":3,"offset":-3,"title":null}},"y":{"datum":0,"type":"quantitative","axis":{"orient":"left","values":[-52.5,-17.5,17.5,52.5],"labels":false,"tickSize":3,"offset":-3,"title":null}}}},
{"data":{"values":[{}]},"mark":{"type":"point","opacity":0},"encoding":{"x":{"datum":0,"type":"quantitative","axis":{"orient":"top","values":[-22.5,-7.5,7.5,22.5],"labels":false,"tickSize":3,"offset":-3,"title":null}},"y":{"datum":0,"type":"quantitative","axis":{"orient":"right","values":[-52.5,-17.5,17.5,52.5],"labels":false,"tickSize":3,"offset":-3,"title":null}}}},
{"data":{"values":[{}]},"mark":{"type":"text","align":"left","baseline":"middle","font":"DejaVu Sans Mono","fontSize":19,"color":"black"},"encoding":{"x":{"datum":-25.3,"type":"quantitative","axis":null},"y":{"datum":51.9,"type":"quantitative","axis":null},"text":{"value":"(NS)"}}},
{"data":{"values":[{}]},"mark":{"type":"text","align":"left","baseline":"middle","font":"DejaVu Sans Mono","fontSize":20,"color":"black"},"encoding":{"x":{"datum":-13.9,"type":"quantitative","axis":null},"y":{"datum":-58.6,"type":"quantitative","axis":null},"text":{"value":"(b)  SPECIMEN B8-2"}}}
]},
{"width":247,"height":278,"data":{"name":"bEW"},"resolve":{"axis":{"x":"independent","y":"independent"}},
"layer":[
{"mark":{"type":"line","strokeWidth":2.4,"strokeCap":"round","strokeJoin":"round","color":"black"},
"encoding":{
"x":{"field":"x","type":"quantitative","scale":{"domain":[-30,30],"nice":false,"zero":false},"axis":{"orient":"bottom","values":[-30,-15,0,15,30],"labelExpr":"datum.value > -30 ? '' + datum.value : ''","labelPadding":14,"title":null}},
"y":{"field":"y","type":"quantitative","scale":{"domain":[-70,70],"nice":false,"zero":false},"axis":{"orient":"left","values":[-70,-35,0,35,70],"labels":false,"title":null}},
"strokeDash":{"field":"s","type":"nominal","scale":{"domain":["A","E"],"range":[[1,0],[0.5,3.5]]},"legend":{"title":null,"orient":"none","legendX":28,"legendY":-55,"direction":"horizontal","symbolType":"M-3,0H3","symbolSize":400,"symbolStrokeWidth":2.2,"symbolStrokeColor":"black","labelFont":"DejaVu Sans Mono","labelFontSize":21,"labelColor":"black","labelOffset":27,"columnPadding":43,"labelExpr":"datum.label == 'A' ? 'Analysis' : 'Experiment'"}},
"order":{"value":null}}},
{"data":{"values":[{}]},"mark":{"type":"rule","color":"black","strokeWidth":1.5},"encoding":{"y":{"datum":0,"type":"quantitative","axis":{"orient":"right","values":[-70,-35,0,35,70],"labels":false,"title":null}}}},
{"data":{"values":[{}]},"mark":{"type":"rule","color":"black","strokeWidth":1.5},"encoding":{"x":{"datum":0,"type":"quantitative","axis":{"orient":"top","values":[-30,-15,0,15,30],"labels":false,"title":null}}}},
{"data":{"values":[{}]},"mark":{"type":"point","opacity":0},"encoding":{"x":{"datum":0,"type":"quantitative","axis":{"orient":"bottom","values":[-22.5,-7.5,7.5,22.5],"labels":false,"tickSize":3,"offset":-3,"title":null}},"y":{"datum":0,"type":"quantitative","axis":{"orient":"left","values":[-52.5,-17.5,17.5,52.5],"labels":false,"tickSize":3,"offset":-3,"title":null}}}},
{"data":{"values":[{}]},"mark":{"type":"point","opacity":0},"encoding":{"x":{"datum":0,"type":"quantitative","axis":{"orient":"top","values":[-22.5,-7.5,7.5,22.5],"labels":false,"tickSize":3,"offset":-3,"title":null}},"y":{"datum":0,"type":"quantitative","axis":{"orient":"right","values":[-52.5,-17.5,17.5,52.5],"labels":false,"tickSize":3,"offset":-3,"title":null}}}},
{"data":{"values":[{}]},"mark":{"type":"text","align":"left","baseline":"middle","font":"DejaVu Sans Mono","fontSize":19,"color":"black"},"encoding":{"x":{"datum":-25.6,"type":"quantitative","axis":null},"y":{"datum":51.9,"type":"quantitative","axis":null},"text":{"value":"(EW)"}}}
]}
]
}
